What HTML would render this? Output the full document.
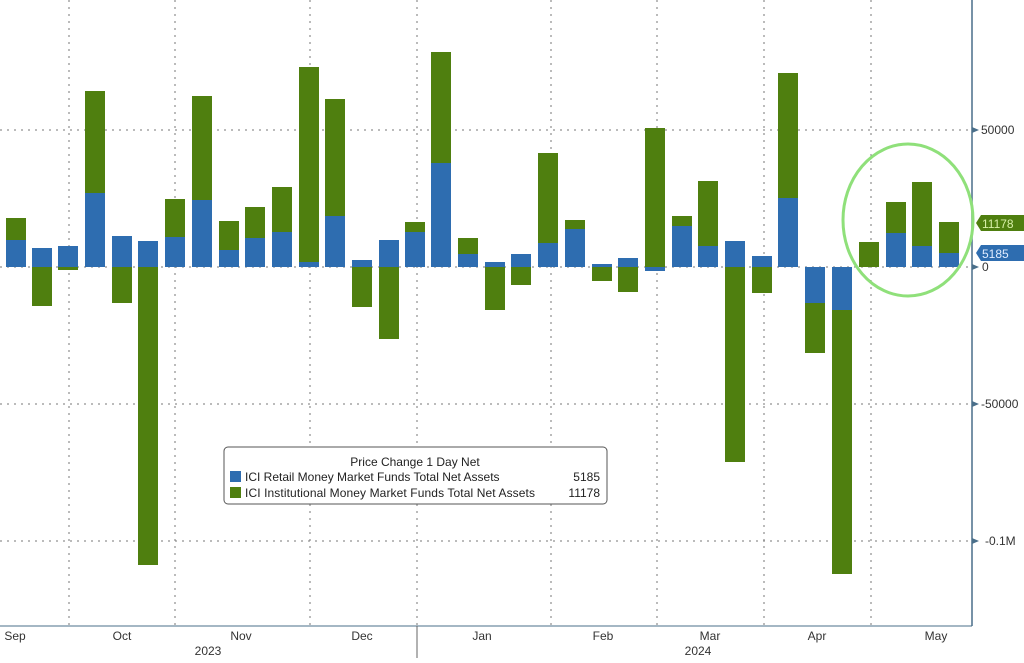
<!DOCTYPE html>
<html><head><meta charset="utf-8"><style>
body{margin:0;background:#fff;}
svg text{font-family:"Liberation Sans",sans-serif;}
</style></head><body>
<svg width="1024" height="658" viewBox="0 0 1024 658" xmlns="http://www.w3.org/2000/svg">
<rect width="1024" height="658" fill="#fff"/>
<g stroke="#777" stroke-width="1" stroke-dasharray="2,5">
<line x1="0" y1="130" x2="972" y2="130"/>
<line x1="0" y1="404" x2="972" y2="404"/>
<line x1="0" y1="541" x2="972" y2="541"/>
<line x1="0" y1="267" x2="972" y2="267"/>
<line x1="69" y1="0" x2="69" y2="626"/>
<line x1="175" y1="0" x2="175" y2="626"/>
<line x1="310" y1="0" x2="310" y2="626"/>
<line x1="417" y1="0" x2="417" y2="626"/>
<line x1="551" y1="0" x2="551" y2="626"/>
<line x1="657" y1="0" x2="657" y2="626"/>
<line x1="764" y1="0" x2="764" y2="626"/>
<line x1="871" y1="0" x2="871" y2="626"/>
</g>
<g fill="#4f7f0f">
<rect x="6" y="218" width="20" height="22"/>
<rect x="32" y="267" width="20" height="39"/>
<rect x="58" y="267" width="20" height="3"/>
<rect x="85" y="91" width="20" height="102"/>
<rect x="112" y="267" width="20" height="36"/>
<rect x="138" y="267" width="20" height="298"/>
<rect x="165" y="199" width="20" height="38"/>
<rect x="192" y="96" width="20" height="104"/>
<rect x="219" y="221" width="20" height="29"/>
<rect x="245" y="207" width="20" height="31"/>
<rect x="272" y="187" width="20" height="45"/>
<rect x="299" y="67" width="20" height="195"/>
<rect x="325" y="99" width="20" height="117"/>
<rect x="352" y="267" width="20" height="40"/>
<rect x="379" y="267" width="20" height="72"/>
<rect x="405" y="222" width="20" height="10"/>
<rect x="431" y="52" width="20" height="111"/>
<rect x="458" y="238" width="20" height="16"/>
<rect x="485" y="267" width="20" height="43"/>
<rect x="511" y="267" width="20" height="18"/>
<rect x="538" y="153" width="20" height="90"/>
<rect x="565" y="220" width="20" height="9"/>
<rect x="592" y="267" width="20" height="14"/>
<rect x="618" y="267" width="20" height="25"/>
<rect x="645" y="128" width="20" height="139"/>
<rect x="672" y="216" width="20" height="10"/>
<rect x="698" y="181" width="20" height="65"/>
<rect x="725" y="267" width="20" height="195"/>
<rect x="752" y="267" width="20" height="26"/>
<rect x="778" y="73" width="20" height="125"/>
<rect x="805" y="303" width="20" height="50"/>
<rect x="832" y="310" width="20" height="264"/>
<rect x="859" y="242" width="20" height="25"/>
<rect x="886" y="202" width="20" height="31"/>
<rect x="912" y="182" width="20" height="64"/>
<rect x="939" y="222" width="20" height="31"/>
</g>
<g fill="#2e6db0">
<rect x="6" y="240" width="20" height="27"/>
<rect x="32" y="248" width="20" height="19"/>
<rect x="58" y="246" width="20" height="21"/>
<rect x="85" y="193" width="20" height="74"/>
<rect x="112" y="236" width="20" height="31"/>
<rect x="138" y="241" width="20" height="26"/>
<rect x="165" y="237" width="20" height="30"/>
<rect x="192" y="200" width="20" height="67"/>
<rect x="219" y="250" width="20" height="17"/>
<rect x="245" y="238" width="20" height="29"/>
<rect x="272" y="232" width="20" height="35"/>
<rect x="299" y="262" width="20" height="5"/>
<rect x="325" y="216" width="20" height="51"/>
<rect x="352" y="260" width="20" height="7"/>
<rect x="379" y="240" width="20" height="27"/>
<rect x="405" y="232" width="20" height="35"/>
<rect x="431" y="163" width="20" height="104"/>
<rect x="458" y="254" width="20" height="13"/>
<rect x="485" y="262" width="20" height="5"/>
<rect x="511" y="254" width="20" height="13"/>
<rect x="538" y="243" width="20" height="24"/>
<rect x="565" y="229" width="20" height="38"/>
<rect x="592" y="264" width="20" height="3"/>
<rect x="618" y="258" width="20" height="9"/>
<rect x="645" y="267" width="20" height="4"/>
<rect x="672" y="226" width="20" height="41"/>
<rect x="698" y="246" width="20" height="21"/>
<rect x="725" y="241" width="20" height="26"/>
<rect x="752" y="256" width="20" height="11"/>
<rect x="778" y="198" width="20" height="69"/>
<rect x="805" y="267" width="20" height="36"/>
<rect x="832" y="267" width="20" height="43"/>
<rect x="886" y="233" width="20" height="34"/>
<rect x="912" y="246" width="20" height="21"/>
<rect x="939" y="253" width="20" height="14"/>
</g>
<line x1="972" y1="0" x2="972" y2="626" stroke="#4a6f8a" stroke-width="1.5"/>
<line x1="0" y1="626" x2="972" y2="626" stroke="#4a6f8a" stroke-width="1"/>
<line x1="417" y1="626" x2="417" y2="658" stroke="#666"/>
<g fill="#333" font-size="12">
<text x="981" y="134">50000</text>
<text x="982" y="271">0</text>
<text x="981" y="408">-50000</text>
<text x="985" y="545">-0.1M</text>
<polygon points="972,127 979,130 972,133" fill="#4a6f8a"/>
<polygon points="972,264 979,267 972,270" fill="#4a6f8a"/>
<polygon points="972,401 979,404 972,407" fill="#4a6f8a"/>
<polygon points="972,538 979,541 972,544" fill="#4a6f8a"/>
</g>
<polygon points="976,223 981,215 1024,215 1024,231 981,231" fill="#4f7f0f"/>
<text x="982" y="228" fill="#d8f0a8" font-size="12">11178</text>
<polygon points="976,253 981,245 1024,245 1024,261 981,261" fill="#2e6db0"/>
<text x="982" y="258" fill="#e0ecff" font-size="12">5185</text>
<g fill="#333" font-size="12" text-anchor="middle">
<text x="15" y="640">Sep</text><text x="122" y="640">Oct</text><text x="241" y="640">Nov</text>
<text x="362" y="640">Dec</text><text x="482" y="640">Jan</text><text x="603" y="640">Feb</text>
<text x="710" y="640">Mar</text><text x="817" y="640">Apr</text><text x="936" y="640">May</text>
<text x="208" y="655">2023</text><text x="698" y="655">2024</text>
</g>
<ellipse cx="908" cy="220" rx="65" ry="76" fill="none" stroke="#8fe07a" stroke-width="3"/>
<rect x="224" y="447" width="383" height="57" rx="4" fill="#fff" stroke="#555"/>
<text x="415" y="466" font-size="12" text-anchor="middle" fill="#222">Price Change 1 Day Net</text>
<rect x="230" y="471" width="11" height="11" fill="#2e6db0"/>
<rect x="230" y="487" width="11" height="11" fill="#4f7f0f"/>
<text x="245" y="481" font-size="12" fill="#222">ICI Retail Money Market Funds Total Net Assets</text>
<text x="600" y="481" font-size="12" fill="#222" text-anchor="end">5185</text>
<text x="245" y="497" font-size="12" fill="#222" textLength="290">ICI Institutional Money Market Funds Total Net Assets</text>
<text x="600" y="497" font-size="12" fill="#222" text-anchor="end">11178</text>
</svg>
</body></html>
